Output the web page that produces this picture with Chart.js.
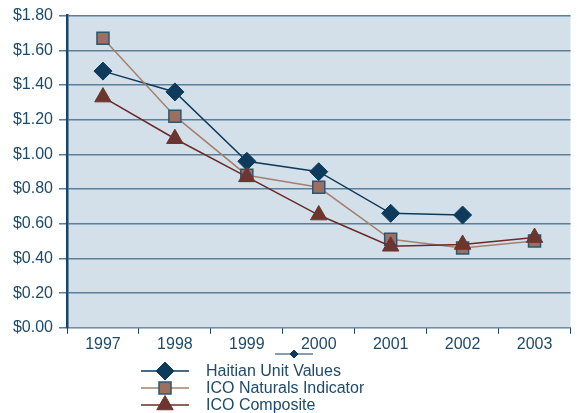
<!DOCTYPE html>
<html><head><meta charset="utf-8">
<script src="https://cdn.jsdelivr.net/npm/chart.js@4/dist/chart.umd.min.js"></script>
<style>html,body{margin:0;padding:0;overflow:hidden;background:#fff;width:577px;height:413px}</style>
</head><body>
<canvas id="c" width="581" height="413" style="display:block"></canvas>
<script>
const years = ['1997','1998','1999','2000','2001','2002','2003'];
const haitian = [1.48, 1.36, 0.96, 0.90, 0.66, 0.65, null];
const icoNaturals = [1.67, 1.22, 0.88, 0.81, 0.51, 0.46, 0.50];
const icoComposite = [1.33, 1.09, 0.87, 0.65, 0.47, 0.48, 0.52];
const seriesNames = ['Haitian Unit Values', 'ICO Naturals Indicator', 'ICO Composite'];

const textColor = '#1d4a6b';
const fontFam = '"Liberation Sans", Arial, sans-serif';
const bgPlugin = {
  id: 'bg',
  beforeDraw(chart) {
    const a = chart.chartArea, ctx = chart.ctx;
    ctx.save(); ctx.fillStyle = '#d3e0ea';
    ctx.fillRect(a.left, a.top, a.right - a.left, a.bottom - a.top);
    ctx.restore();
  }
};
const legendPlugin = {
  id: 'customLegend',
  afterDraw(chart) {
    const ctx = chart.ctx;
    const ds = chart.data.datasets;
    ctx.save();
    ctx.strokeStyle = ds[0].borderColor; ctx.lineWidth = 1.2;
    ctx.beginPath(); ctx.moveTo(275, 354); ctx.lineTo(313, 354); ctx.stroke();
    ctx.fillStyle = ds[0].pointBackgroundColor; ctx.strokeStyle = ds[0].pointBorderColor; ctx.lineWidth = 1;
    Chart.helpers.drawPoint(ctx, {pointStyle: 'rectRot', radius: 4, borderWidth: 1}, 294, 354);
    const rows = [371, 388, 405];
    ds.forEach((d, i) => {
      const y = rows[i];
      ctx.strokeStyle = d.borderColor; ctx.lineWidth = 1.5;
      ctx.beginPath(); ctx.moveTo(141, y); ctx.lineTo(189, y); ctx.stroke();
      ctx.fillStyle = d.pointBackgroundColor; ctx.strokeStyle = d.pointBorderColor; ctx.lineWidth = d.pointBorderWidth;
      Chart.helpers.drawPoint(ctx, {pointStyle: d.pointStyle, radius: d.pointRadius, borderWidth: d.pointBorderWidth}, 165, y);
      ctx.fillStyle = textColor; ctx.font = '16px ' + fontFam;
      ctx.textBaseline = 'middle'; ctx.textAlign = 'left';
      ctx.fillText(seriesNames[i], 206, y + 1);
    });
    ctx.restore();
  }
};

new Chart(document.getElementById('c'), {
  type: 'line',
  data: {
    labels: years,
    datasets: [
      {label: seriesNames[0], data: haitian, order: 2, borderColor: '#0e3a5c', borderWidth: 1.5,
       pointStyle: 'rectRot', pointRadius: 9, pointBackgroundColor: '#0e3a5c', pointBorderColor: '#0e3a5c', pointBorderWidth: 1},
      {label: seriesNames[1], data: icoNaturals, order: 1, borderColor: '#a4806f', borderWidth: 1.5,
       pointStyle: 'rect', pointRadius: 8.5, pointBackgroundColor: '#9b7060', pointBorderColor: '#2f5571', pointBorderWidth: 1.5},
      {label: seriesNames[2], data: icoComposite, order: 0, borderColor: '#6a2a26', borderWidth: 1.5,
       pointStyle: 'triangle', pointRadius: 9.5, pointBackgroundColor: '#6d3530', pointBorderColor: '#6d3530', pointBorderWidth: 1}
    ]
  },
  options: {
    responsive: false,
    animation: false,
    devicePixelRatio: 1,
    layout: {padding: {top: 10, right: 0, bottom: 58, left: 0}},
    plugins: {legend: {display: false}, tooltip: {enabled: false}},
    scales: {
      x: {
        offset: true,
        grid: {offset: true, drawOnChartArea: false, tickLength: 6, color: '#1d4a6b', lineWidth: 1},
        border: {display: true, color: '#6f8ea6', width: 1},
        ticks: {color: textColor, font: {family: fontFam, size: 16}, padding: 1, maxRotation: 0}
      },
      y: {
        min: 0, max: 1.8,
        afterFit(s) { s.width = 67; },
        ticks: {stepSize: 0.2, color: textColor, padding: 6,
          font: {family: fontFam, size: 16},
          callback: v => '$' + Number(v).toFixed(2)},
        grid: {color: '#5b7f99', lineWidth: 1.5, tickLength: 8},
        border: {display: true, color: '#14456a', width: 2.5}
      }
    }
  },
  plugins: [bgPlugin, legendPlugin]
});
</script>
</body></html>
